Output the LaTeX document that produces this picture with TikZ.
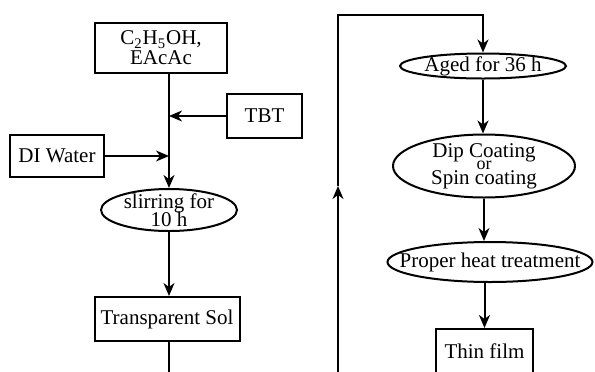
\documentclass[tikz,border=0pt]{standalone}
\usepackage{fontspec}
\setmainfont{Liberation Serif}
\usetikzlibrary{arrows.meta,positioning,shapes.geometric}
\newcommand\tightlines{\lineskiplimit=-20pt\relax}
\tikzset{
  procbox/.style={draw, line width=1pt, rectangle, inner sep=0pt, align=center},
  procoval/.style={draw, line width=1pt, ellipse, inner xsep=-12pt, inner ysep=-4pt, align=center},
  flow/.style={line width=1pt, -{Stealth[length=6.5pt,width=5.5pt,inset=2pt]}},
  plainline/.style={line width=1pt},
}
\begin{document}
\begin{tikzpicture}[x=0.5pt, y=-0.5pt, font=\fontsize{10.5}{10}\selectfont\tightlines]
\useasboundingbox (0,0) rectangle (595,371);
\clip (0,0) rectangle (595,371);
% sol preparation
\node[procbox, minimum width=66pt, minimum height=25pt] (ethanol) at (161,48) {C\textsubscript{2}H\textsubscript{5}OH,\\EAcAc};
\node[procbox, minimum width=37.5pt, minimum height=22pt] (tbt) at (264.5,116) {TBT};
\node[procbox, minimum width=47pt, minimum height=21pt] (water) at (57,156) {DI Water};
\node[procoval, minimum width=68pt, minimum height=21pt, font=\fontsize{10.5}{9}\selectfont\tightlines] (stir) at (169,210) {slirring for\\10 h};
\node[procbox, minimum width=72.5pt, minimum height=22pt] (sol) at (167,319) {Transparent Sol};
\coordinate (solend) at (169,390);
\draw[flow] (ethanol.south -| stir.north) -- (stir.north);
\draw[flow] (tbt.west) -- (tbt.west -| stir.north);
\draw[flow] (water.east) -- (water.east -| stir.north);
\draw[flow] (stir.south) -- (stir.south |- sol.north);
\draw[plainline] (sol.south -| solend) -- (solend);
% film deposition
\node[procoval, minimum width=83pt, minimum height=12.5pt] (aged) at (483,66) {Aged for 36 h};
\node[procoval, minimum width=91pt, minimum height=31.5pt, font=\fontsize{10.5}{6}\selectfont\tightlines] (coat) at (484,166) {Dip Coating\\{\fontsize{9}{6}\selectfont or}\\[1.5pt]Spin coating};
\node[procoval, minimum width=102.5pt, minimum height=20pt] (heat) at (490,262) {Proper heat treatment};
\node[procbox, minimum width=48.5pt, minimum height=22pt] (film) at (484.5,351) {Thin film};
\draw[flow] (aged.south) -- (aged.south |- coat.north);
\draw[flow] (coat.south) -- (coat.south |- heat.north);
\draw[flow] (heat.south -| film.north) -- (film.north);
% return line
\coordinate (loopstart) at (338,390);
\coordinate (loopmid) at (338,186);
\coordinate (loopturn) at (338,15);
\draw[flow] (loopstart) -- (loopmid);
\draw[flow] (loopmid) -- (loopturn) -| (aged.north);
\end{tikzpicture}
\end{document}
